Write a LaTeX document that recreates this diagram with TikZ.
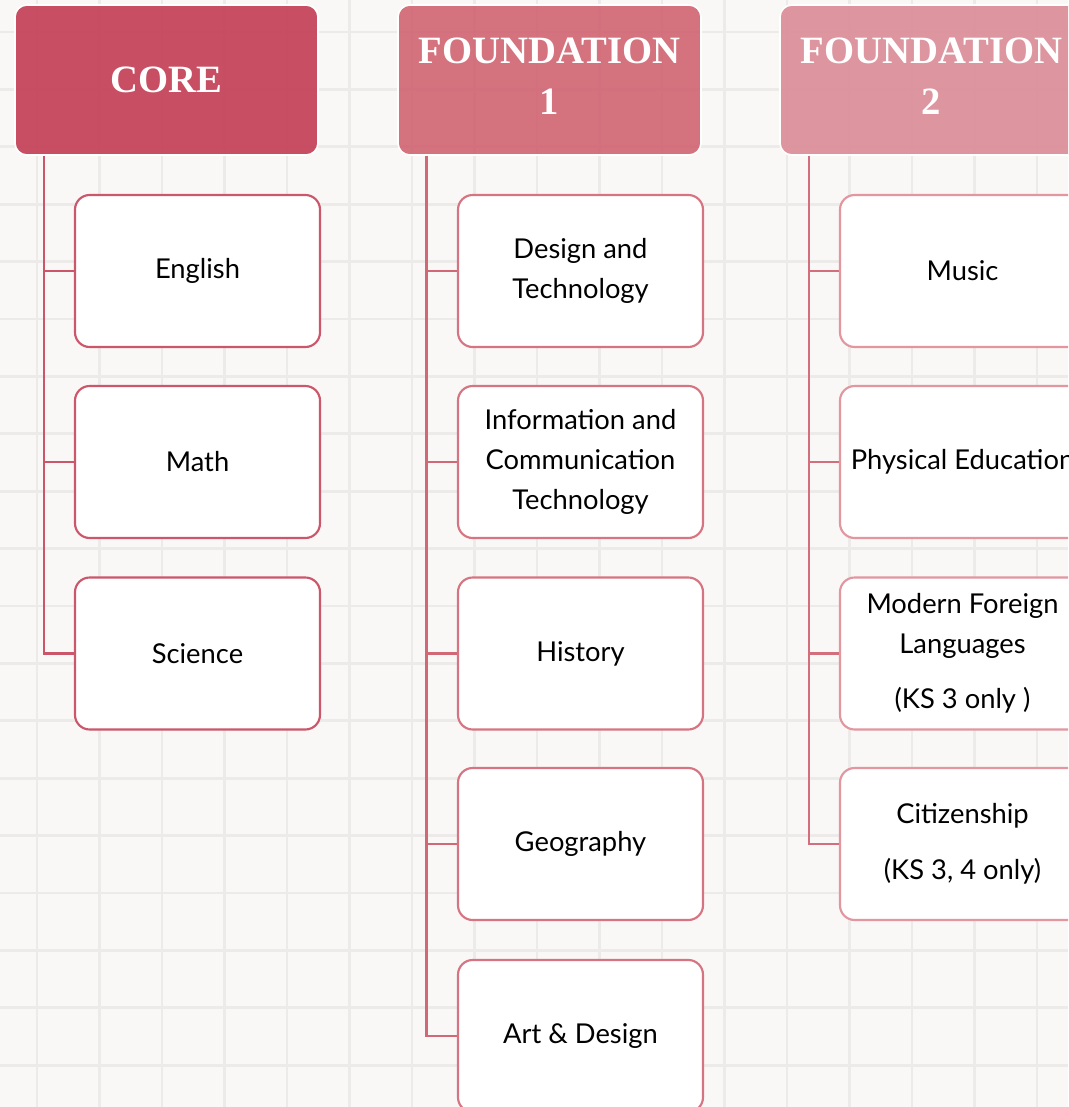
\documentclass[tikz,border=0pt]{standalone}
\usepackage{fontspec}
\setmainfont{Lato}
\newfontfamily\headfont{Liberation Serif}
\definecolor{bgc}{RGB}{249,248,246}
\definecolor{gridc}{RGB}{237,235,233}
\definecolor{hA}{RGB}{195,61,84}
\definecolor{hB}{RGB}{208,100,114}
\definecolor{hC}{RGB}{219,140,151}
\definecolor{lA}{RGB}{204,86,106}
\definecolor{lB}{RGB}{214,117,129}
\definecolor{lC}{RGB}{225,150,160}
\definecolor{cA}{RGB}{203,85,105}
\definecolor{cB}{RGB}{208,104,117}
\definecolor{cC}{RGB}{211,110,124}
\begin{document}
\begin{tikzpicture}[x=0.75pt,y=-0.75pt,
  head/.style={draw=white,line width=1.2pt,fill=#1,fill opacity=0.9,
    rounded corners=9pt,minimum width=227.25pt,minimum height=112.5pt,inner sep=0pt},
  headtext/.style={inner sep=0pt,align=center,text=white,
    font=\headfont\bfseries\fontsize{29}{38}\selectfont},
  leaf/.style={draw=#1,line width=1.6pt,fill=white,rounded corners=11pt,
    minimum width=183.75pt,minimum height=114pt,inner sep=0pt,align=center,
    text=black,font=\fontsize{20.5}{30}\selectfont},
  conn/.style={draw=#1,line width=1.9pt}]
\useasboundingbox (0,0) rectangle (1068,1107);
\clip (0,0) rectangle (1068,1107);
\fill[bgc] (0,0) rectangle (1068,1107);
\foreach \i in {0,...,17} \draw[gridc,line width=2.2pt] ({37+62.5*\i},0) -- ({37+62.5*\i},1107);
\foreach \j in {0,...,18} \draw[gridc,line width=2.2pt] (0,{32+57.4*\j}) -- (1068,{32+57.4*\j});

% headers
\node[head=hA] (core) at (166.5,80) {};
\node[headtext] (coret) at (166.5,80) {CORE};
\node[head=hB] (fa) at (549.5,80) {};
\node[headtext] (fat) at (549.5,76.5) {FOUNDATION\\1};
\node[head=hC] (fb) at (931.5,80) {};
\node[headtext] (fbt) at (931.5,76.5) {FOUNDATION\\2};

% core children
\node[leaf=lA] (eng) at (197.5,271) {English};
\node[leaf=lA] (math) at (197.5,462) {Math};
\node[leaf=lA] (sci) at (197.5,653.5) {Science};

% foundation 1 children
\node[leaf=lB] (dt) at (580.5,271) {Design and\\Technology};
\node[leaf=lB] (ict) at (580.5,462) {Information and\\Communication\\Technology};
\node[leaf=lB] (hist) at (580.5,653.5) {History};
\node[leaf=lB] (geo) at (580.5,844) {Geography};
\node[leaf=lB] (art) at (580.5,1036) {Art \& Design};

% foundation 2 children
\node[leaf=lC] (mus) at (962.5,271) {Music};
\node[leaf=lC] (pe) at (962.5,462) {Physical Education};
\node[leaf=lC] (mfl) at (962.5,653.5) {Modern Foreign\\Languages\\[11pt](KS 3 only )};
\node[leaf=lC] (cit) at (962.5,844) {Citizenship\\[12pt](KS 3, 4 only)};

% connectors
\foreach \c in {eng,math,sci} \draw[conn=cA] ([xshift=22.5pt]core.south west) |- (\c.west);
\foreach \c in {dt,ict,hist,geo,art} \draw[conn=cB] ([xshift=22pt]fa.south west) |- (\c.west);
\foreach \c in {mus,pe,mfl,cit} \draw[conn=cC] ([xshift=22.5pt]fb.south west) |- (\c.west);
\end{tikzpicture}
\end{document}
